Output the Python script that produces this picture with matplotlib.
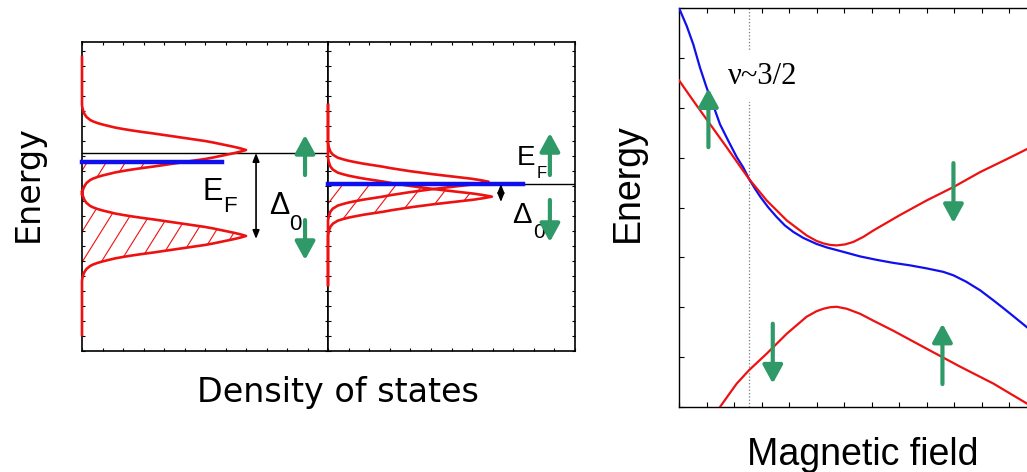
import numpy as np
import matplotlib
matplotlib.use("Agg")
import matplotlib.pyplot as plt
from matplotlib.patches import Polygon
from matplotlib.collections import LineCollection

# ---- left panel: density of states (energy up, DOS to the right) ----
# one peak profile: offset from peak centre -> DOS
left_prof_off = [0.0, 0.1, 0.2, 0.3, 0.4, 0.5, 0.6, 0.7, 0.8, 0.9, 1.0, 1.1, 1.2, 1.3,
                 1.4, 1.5, 1.6, 1.7, 1.8, 1.9, 2.0, 2.2, 2.4, 2.6, 2.8, 3.0]
left_prof_val = [8.0, 7.75, 7.45, 7.1, 6.75, 6.4, 6.0, 5.5, 5.0, 4.5, 4.0, 3.5, 2.95, 2.45,
                 2.0, 1.6, 1.3, 1.0, 0.75, 0.55, 0.4, 0.22, 0.12, 0.06, 0.02, 0.0]
left_centres = [13.4, 7.67]          # two spin peaks, gap Delta_0
left_ends = [19.6, 1.07]             # top / bottom of drawn DOS baseline
left_ef = 12.6                        # Fermi level (blue)
left_ef_len = 6.83
left_ref = 13.2                       # thin black reference line

right_prof_off = [0.0, 0.1, 0.2, 0.3, 0.4, 0.5, 0.6, 0.7, 0.8, 0.9, 1.0, 1.1, 1.2, 1.3,
                  1.4, 1.5, 1.6, 1.8, 2.0, 2.3, 2.6]
right_prof_val = [1.0, 0.95, 0.89, 0.81, 0.73, 0.65, 0.58, 0.51, 0.45, 0.39, 0.34, 0.28,
                  0.22, 0.17, 0.125, 0.09, 0.06, 0.03, 0.015, 0.005, 0.0]
right_centres = [11.29, 10.29]
right_heights = [7.8, 7.96]
right_ends = [16.4, 4.4]
right_ef = 11.13
right_ef_len = 9.47

# ---- right panel: Landau levels vs magnetic field ----
blue_x = [0, 0.28, 0.52, 0.76, 1.0, 1.25, 1.49, 1.79, 2.10, 2.34, 2.55, 2.76, 2.95, 3.25,
          3.55, 3.85, 4.16, 4.52, 5.0, 5.37, 5.98, 6.58, 7.19, 7.79, 8.4, 9.0, 9.61, 9.98,
          10.45, 10.95, 11.43, 11.8, 12.16, 12.65, 13.0]
blue_y = [8.0, 7.64, 7.27, 6.81, 6.41, 6.04, 5.67, 5.34, 5.01, 4.8, 4.57, 4.38, 4.22, 4.0,
          3.81, 3.64, 3.51, 3.39, 3.27, 3.2, 3.11, 3.02, 2.95, 2.89, 2.84, 2.78, 2.71, 2.64,
          2.51, 2.34, 2.14, 1.98, 1.82, 1.6, 1.45]
red_up_x = [0, 0.52, 1.13, 1.73, 2.15, 2.55, 3.19, 3.92, 4.64, 5.0, 5.25, 5.49, 5.73, 6.04,
            6.34, 6.7, 7.07, 8.04, 9.0, 9.98, 10.95, 11.92, 12.65, 13.0]
red_up_y = [6.55, 6.14, 5.67, 5.21, 4.88, 4.57, 4.14, 3.74, 3.44, 3.33, 3.28, 3.25, 3.24, 3.26,
            3.31, 3.41, 3.54, 3.85, 4.14, 4.41, 4.71, 4.97, 5.17, 5.26]
red_lo_x = [1.49, 1.8, 2.10, 2.55, 3.19, 3.92, 4.64, 5.0, 5.25, 5.49, 5.73, 6.1, 6.58, 7.07,
            7.79, 9.0, 10.22, 11.43, 12.65, 13.0]
red_lo_y = [0.0, 0.24, 0.47, 0.74, 1.07, 1.47, 1.81, 1.92, 1.97, 2.0, 2.01, 1.97, 1.87, 1.73,
            1.53, 1.17, 0.81, 0.47, 0.07, -0.05]
nu_x = 2.55

GREEN = "#2f9a67"
RED = "#ee1111"
BLUE = "#1010ee"


def peak(centre, height, offs, vals):
    offs = np.asarray(offs)
    vals = np.asarray(vals) * height
    e = np.concatenate([centre + offs[::-1], centre - offs[1:]])
    d = np.concatenate([vals[::-1], vals[1:]])
    return e, d


def dos_curve(centres, heights, offs, vals, ends):
    es, ds = [ends[0]], [0.0]
    for c, h in zip(centres, heights):
        e, d = peak(c, h, offs, vals)
        es += list(e)
        ds += list(d)
    es.append(ends[1])
    ds.append(0.0)
    return np.array(es), np.array(ds)


def hatch_region(ax, e, d, ef, spacing, slope):
    # region under the Fermi level, hatched with thin red lines
    order = np.argsort(e)
    e_s, d_s = e[order], d[order]
    keep = e_s < ef
    e_in = np.append(e_s[keep], ef)
    d_in = np.append(d_s[keep], np.interp(ef, e_s, d_s))
    verts = list(zip(d_in, e_in)) + [(0, ef), (0, e_in[0])]
    poly = Polygon(verts, closed=True, fc="none", ec="none")
    ax.add_patch(poly)
    segs = [[(x0, 0), (x0 + 22 / slope, 22)] for x0 in np.arange(-12, 12, spacing)]
    lc = LineCollection(segs, colors=RED, linewidths=0.8, zorder=2)
    lc.set_clip_path(poly)
    ax.add_collection(lc)


def green_arrow(ax, x, y0, y1):
    ax.annotate("", xy=(x, y1), xytext=(x, y0),
                arrowprops=dict(arrowstyle="-|>,head_length=0.55,head_width=0.3",
                                mutation_scale=20, lw=3, color=GREEN,
                                shrinkA=0, shrinkB=0), zorder=6)


def gap_arrow(ax, x, y0, y1):
    ax.annotate("", xy=(x, y1), xytext=(x, y0),
                arrowprops=dict(arrowstyle="<|-|>,head_length=0.5,head_width=0.2",
                                mutation_scale=10, lw=1.2, color="black",
                                shrinkA=0, shrinkB=0), zorder=5)


def box_ticks(ax, length, step_x, step_y):
    ax.set_xticks(np.arange(0, ax.get_xlim()[1] + 0.01, step_x))
    ax.set_yticks(np.arange(0, ax.get_ylim()[1] + 0.01, step_y))
    ax.tick_params(direction="in", length=length, width=0.8, top=True, right=True,
                   labelleft=False, labelbottom=False)


fig = plt.figure(figsize=(10.27, 4.72), dpi=100)

ax1 = fig.add_axes([82 / 1027, 121 / 472, 246 / 1027, 309 / 472])
ax2 = fig.add_axes([328 / 1027, 121 / 472, 247 / 1027, 309 / 472])
for ax in (ax1, ax2):
    ax.set_xlim(0, 12)
    ax.set_ylim(0, 20.6)
    box_ticks(ax, 2.5, 1, 1)
    for s in ax.spines.values():
        s.set_linewidth(1.2)

# left half
e1, d1 = dos_curve(left_centres, [1.0, 1.0], left_prof_off, left_prof_val, left_ends)
ax1.plot(d1, e1, color=RED, lw=1.9, clip_on=False, zorder=3)
hatch_region(ax1, e1, d1, left_ef, 0.93, 2.19)
ax1.plot([0, 12], [left_ref, left_ref], color="black", lw=1.0, zorder=2)
ax1.plot([0, left_ef_len], [left_ef, left_ef], color=BLUE, lw=3.2, zorder=4, clip_on=False)
gap_arrow(ax1, 8.49, left_ref, 7.47)
green_arrow(ax1, 10.88, 11.73, 14.4)
green_arrow(ax1, 10.88, 8.73, 6.07)
ax1.text(5.9, 10.07, "E", fontsize=22, family="Liberation Sans", va="baseline")
ax1.text(6.88, 9.27, "F", fontsize=16, family="Liberation Sans", va="baseline")
ax1.text(9.12, 9.13, "Δ", fontsize=22, family="Liberation Sans", va="baseline")
ax1.text(10.1, 8.07, "0", fontsize=16, family="Liberation Sans", va="baseline")

# right half
curves = []
for c, h in zip(right_centres, right_heights):
    e, d = dos_curve([c], [h], right_prof_off, right_prof_val, right_ends)
    ax2.plot(d, e, color=RED, lw=1.9, clip_on=False, zorder=3)
    curves.append((e, d))
all_e = np.unique(np.concatenate([c[0] for c in curves]))
max_d = np.max([np.interp(all_e, np.sort(e), d[np.argsort(e)]) for e, d in curves], axis=0)
hatch_region(ax2, all_e, max_d, right_ef, 1.3, 1.3 * 20.6 / 15)
ax2.plot([0, 12], [right_ef, right_ef], color="black", lw=1.0, zorder=2)
ax2.plot([0, right_ef_len], [right_ef, right_ef], color=BLUE, lw=3.2, zorder=4, clip_on=False)
gap_arrow(ax2, 8.4, right_ef, 9.93)
green_arrow(ax2, 10.78, 11.73, 14.53)
green_arrow(ax2, 10.78, 10.07, 7.27)
ax2.text(9.17, 12.4, "E", fontsize=20, family="Liberation Sans", va="baseline")
ax2.text(10.15, 11.53, "F", fontsize=12, family="Liberation Sans", va="baseline")
ax2.text(8.93, 8.53, "Δ", fontsize=21, family="Liberation Sans", va="baseline")
ax2.text(9.95, 7.53, "0", fontsize=15, family="Liberation Sans", va="baseline")

fig.text(28 / 1027, 1 - 184 / 472, "Energy", rotation=90, fontsize=24,
         family="DejaVu Sans", ha="center", va="center")
fig.text(338 / 1027, 1 - 402 / 472, "Density of states", fontsize=24,
         family="DejaVu Sans", ha="center", va="baseline")

# ---- right panel ----
ax3 = fig.add_axes([679 / 1027, 65 / 472, 357.5 / 1027, 399 / 472])
ax3.set_xlim(0, 13)
ax3.set_ylim(0, 8)
box_ticks(ax3, 3.6, 1, 1)
ax3.tick_params(right=False)
for s in ax3.spines.values():
    s.set_linewidth(1.0)

ax3.axvline(nu_x, color="#777777", lw=0.9, ls=":", zorder=1)
ax3.plot(blue_x, blue_y, color=BLUE, lw=1.6, zorder=3)
ax3.plot(red_up_x, red_up_y, color=RED, lw=1.6, zorder=3)
ax3.plot(red_lo_x, red_lo_y, color=RED, lw=1.6, zorder=3)
ax3.text(1.78, 6.48, "ν~3/2", fontsize=22, family="Liberation Serif", va="baseline",
         bbox=dict(fc="white", ec="none", pad=8), zorder=4)
green_arrow(ax3, 1.07, 5.21, 6.39)
green_arrow(ax3, 9.98, 4.89, 3.69)
green_arrow(ax3, 3.41, 1.67, 0.47)
green_arrow(ax3, 9.58, 0.46, 1.67)

fig.text(628 / 1027, 1 - 183 / 472, "Energy", rotation=90, fontsize=27,
         family="Liberation Sans", ha="center", va="center")
fig.text(863 / 1027, 1 - 465 / 472, "Magnetic field", fontsize=27,
         family="Liberation Sans", ha="center", va="baseline")

fig.savefig("out.png", dpi=100)
